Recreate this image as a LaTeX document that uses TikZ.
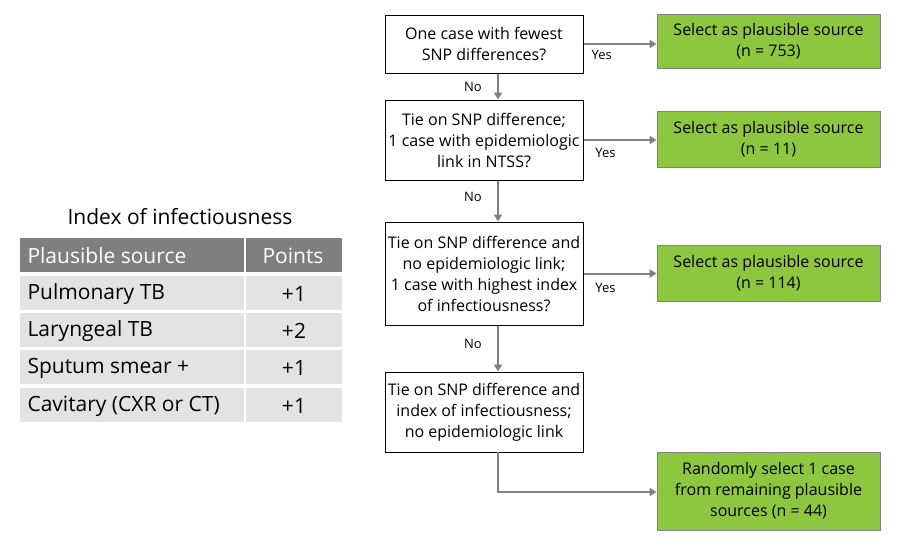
\documentclass[tikz,border=0pt]{standalone}
\usepackage{fontspec}
\setmainfont{Open Sans}
\usetikzlibrary{arrows.meta}
\definecolor{boxgreen}{HTML}{8DC63F}
\definecolor{arrowgray}{HTML}{808080}
\definecolor{headgray}{HTML}{7F7F7F}
\definecolor{rowgray}{HTML}{E3E3E3}
\tikzset{
  question/.style={draw=black, line width=1pt, minimum width=198pt, align=center, font=\fontsize{16}{21}\selectfont, inner sep=0pt},
  result/.style={draw=arrowgray, line width=0.8pt, fill=boxgreen, minimum width=223pt, align=center, font=\fontsize{16}{21}\selectfont, inner sep=0pt},
  flow/.style={draw=arrowgray, line width=2pt, -{Triangle[length=7pt,width=8pt]}},
  lbl/.style={font=\fontsize{13}{15}\selectfont},
  cell/.style={anchor=west, font=\fontsize{21}{24}\selectfont}
}
\begin{document}
\begin{tikzpicture}[x=1pt, y=-1pt]
  \useasboundingbox (0,0) rectangle (900,546);

  % flowchart questions
  \node[question, minimum height=58pt] (q1) at (484, 44) {One case with fewest\\SNP differences?};
  \node[question, minimum height=80pt] (q2) at (484, 140) {Tie on SNP difference;\\1 case with epidemiologic\\link in NTSS?};
  \node[question, minimum height=103pt] (q3) at (484, 273.5) {Tie on SNP difference and\\no epidemiologic link;\\1 case with highest index\\of infectiousness?};
  \node[question, minimum height=80pt] (q4) at (484, 412) {Tie on SNP difference and\\index of infectiousness;\\no epidemiologic link};

  % outcomes
  \node[result, minimum height=54pt] (r1) at (768.5, 41) {Select as plausible source\\(n = 753)};
  \node[result, minimum height=56pt] (r2) at (768.5, 139) {Select as plausible source\\(n = 11)};
  \node[result, minimum height=56pt] (r3) at (768.5, 273.5) {Select as plausible source\\(n = 114)};
  \node[result, minimum height=78pt] (r4) at (768.5, 491) {Randomly select 1 case\\from remaining plausible\\sources (n = 44)};

  \draw[flow] (q1.east |- 0,44) -- (r1.west |- 0,44) node[lbl, pos=0.25, below=2pt] {Yes};
  \draw[flow] (q2.east) -- (r2.west |- q2.east) node[lbl, pos=0.3, below=4pt] {Yes};
  \draw[flow] (q3.east) -- (r3.west |- q3.east) node[lbl, pos=0.3, below=5pt] {Yes};

  \coordinate (b4) at (498, 452);
  \coordinate (k4) at (498, 492);
  \draw[flow] (q1.south -| b4) -- (q2.north -| b4) node[lbl, pos=0.5, left=12pt] {No};
  \draw[flow] (q2.south -| b4) -- (q3.north -| b4) node[lbl, pos=0.4, left=12pt] {No};
  \draw[flow] (q3.south -| b4) -- (q4.north -| b4) node[lbl, pos=0.4, left=12pt] {No};
  \draw[flow] (b4) -- (k4) -- (r4.west |- k4);

  % index table
  \node[font=\fontsize{21}{24}\selectfont] (ttl) at (180, 217) {Index of infectiousness};
  \fill[headgray] (20, 238) rectangle (244, 272);
  \fill[headgray] (246, 238) rectangle (342, 272);
  \node[cell, text=white] (h1) at (24, 256) {Plausible source};
  \node[cell, text=white] (h2) at (259, 256) {Points};
  \foreach \y/\src/\pts in {276/Pulmonary TB/+1, 313/Laryngeal TB/+2, 350/Sputum smear +/+1, 388/Cavitary (CXR or CT)/+1} {
    \fill[rowgray] (20, \y) rectangle (244, \y+34);
    \fill[rowgray] (246, \y) rectangle (342, \y+34);
    \node[cell] at (24, \y+18) {\src};
    \node[font=\fontsize{21}{24}\selectfont] at (294, \y+18) {\pts};
  }
\end{tikzpicture}
\end{document}
